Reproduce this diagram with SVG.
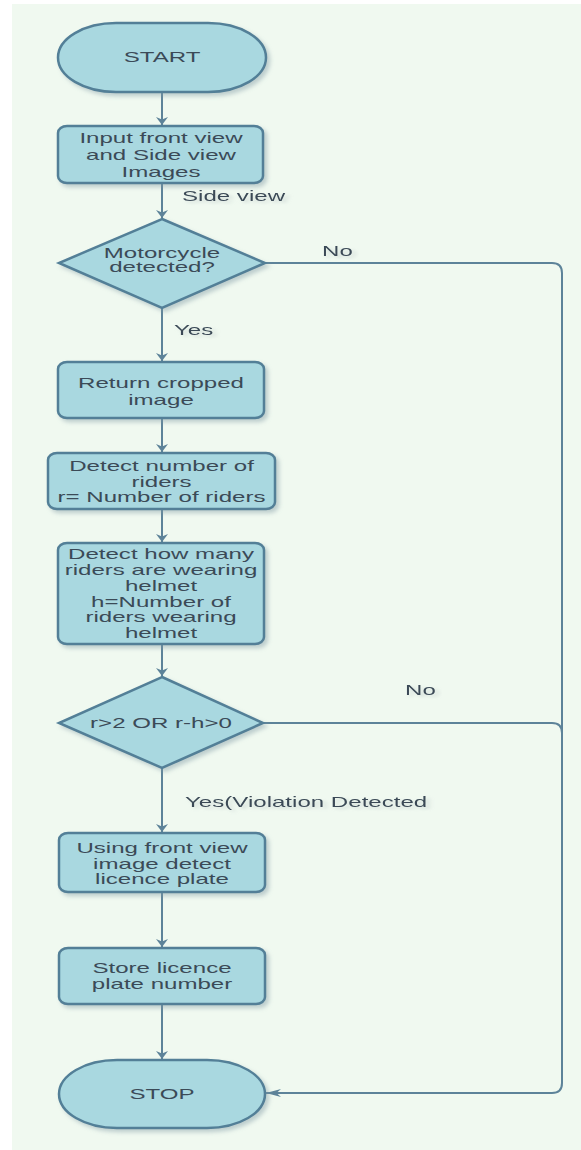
<svg xmlns="http://www.w3.org/2000/svg" width="581" height="1150" viewBox="0 0 581 1150">
  <style>
    .node { fill: #a9d8e0; stroke: #527f97; stroke-width: 2.5; filter: url(#shadow); }
    .conn { fill: none; stroke: #5d8399; stroke-width: 2; }
    .t { font-family: "Liberation Sans", Arial, sans-serif; font-size: 14px; fill: #3b4a57; text-anchor: middle; }
    .lbl { font-family: "Liberation Sans", Arial, sans-serif; font-size: 14px; fill: #3b4a57; text-anchor: start; filter: url(#tshadow); }
  </style>
  <defs>
    <filter id="shadow" x="-10%" y="-10%" width="130%" height="140%">
      <feDropShadow dx="3" dy="3" stdDeviation="2" flood-color="#7f98a3" flood-opacity="0.45"/>
    </filter>
    <filter id="tshadow" x="-10%" y="-30%" width="130%" height="180%">
      <feDropShadow dx="2" dy="2" stdDeviation="1.5" flood-color="#9aa8ad" flood-opacity="0.4"/>
    </filter>
    <marker id="arrowV" viewBox="0 0 8 12" refX="8" refY="6" markerWidth="8" markerHeight="12" markerUnits="userSpaceOnUse" orient="auto">
      <path d="M0,0 L8,6 L0,12 L2.5,6 z" fill="#5d8399"/>
    </marker>
    <marker id="arrowH" viewBox="0 0 15 8" refX="15" refY="4" markerWidth="15" markerHeight="8" markerUnits="userSpaceOnUse" orient="auto">
      <path d="M0,0 L15,4 L0,8 L4.5,4 z" fill="#5d8399"/>
    </marker>
  </defs>

  <rect x="0" y="0" width="581" height="1150" fill="#ffffff"/>
  <rect x="12" y="4" width="569" height="1146" fill="#f0f9f0"/>

  <g id="connectors">
    <line class="conn" x1="162" y1="92" x2="162" y2="125" marker-end="url(#arrowV)"/>
    <line class="conn" x1="162" y1="183" x2="162" y2="218" marker-end="url(#arrowV)"/>
    <line class="conn" x1="162" y1="308" x2="162" y2="361" marker-end="url(#arrowV)"/>
    <line class="conn" x1="162" y1="418" x2="162" y2="452" marker-end="url(#arrowV)"/>
    <line class="conn" x1="162" y1="509" x2="162" y2="542" marker-end="url(#arrowV)"/>
    <line class="conn" x1="162" y1="644" x2="162" y2="676" marker-end="url(#arrowV)"/>
    <line class="conn" x1="162" y1="768" x2="162" y2="832" marker-end="url(#arrowV)"/>
    <line class="conn" x1="162" y1="892" x2="162" y2="947" marker-end="url(#arrowV)"/>
    <line class="conn" x1="162" y1="1004" x2="162" y2="1059" marker-end="url(#arrowV)"/>
    <path class="conn" d="M265,263 H552 Q562,263 562,273 V1083 Q562,1093 552,1093 H266" marker-end="url(#arrowH)"/>
    <path class="conn" d="M263,723 H552 Q562,723 562,733"/>
    <text class="lbl" transform="translate(182,201) scale(1.72,1)">Side view</text>
    <text class="lbl" transform="translate(322,256) scale(1.72,1)">No</text>
    <text class="lbl" transform="translate(174,335) scale(1.72,1)">Yes</text>
    <text class="lbl" transform="translate(405,695) scale(1.72,1)">No</text>
    <text class="lbl" transform="translate(185,807) scale(1.72,1)">Yes(Violation Detected</text>
  </g>

  <g id="start">
    <rect class="node" x="58" y="23" width="208" height="69" rx="58" ry="34.5"/>
    <text class="t" transform="translate(162,62) scale(1.72,1)">START</text>
  </g>

  <g id="input">
    <rect class="node" x="58" y="126" width="205" height="57" rx="9" ry="7"/>
    <text class="t" transform="translate(161,143) scale(1.72,1)">Input front view</text>
    <text class="t" transform="translate(161,160) scale(1.72,1)">and Side view</text>
    <text class="t" transform="translate(161,177) scale(1.72,1)">Images</text>
  </g>

  <g id="motorcycle">
    <polygon class="node" points="162,219 265,263 162,308 59,263"/>
    <text class="t" transform="translate(162,258) scale(1.72,1)">Motorcycle</text>
    <text class="t" transform="translate(162,272) scale(1.72,1)">detected?</text>
  </g>

  <g id="crop">
    <rect class="node" x="58" y="362" width="206" height="56" rx="9" ry="7"/>
    <text class="t" transform="translate(161,388) scale(1.72,1)">Return cropped</text>
    <text class="t" transform="translate(161,405) scale(1.72,1)">image</text>
  </g>

  <g id="riders">
    <rect class="node" x="48" y="453" width="227" height="56" rx="9" ry="7"/>
    <text class="t" transform="translate(161.5,471) scale(1.72,1)">Detect number of</text>
    <text class="t" transform="translate(161.5,487) scale(1.72,1)">riders</text>
    <text class="t" transform="translate(161.5,502) scale(1.72,1)">r= Number of riders</text>
  </g>

  <g id="helmet">
    <rect class="node" x="58" y="543" width="206" height="101" rx="9" ry="7"/>
    <text class="t" transform="translate(161,559) scale(1.72,1)">Detect how many</text>
    <text class="t" transform="translate(161,575) scale(1.72,1)">riders are wearing</text>
    <text class="t" transform="translate(161,591) scale(1.72,1)">helmet</text>
    <text class="t" transform="translate(161,607) scale(1.72,1)">h=Number of</text>
    <text class="t" transform="translate(161,622) scale(1.72,1)">riders wearing</text>
    <text class="t" transform="translate(161,638) scale(1.72,1)">helmet</text>
  </g>

  <g id="violation">
    <polygon class="node" points="162,677 263,723 162,768 59,723"/>
    <text class="t" transform="translate(161,728) scale(1.72,1)">r&gt;2 OR r-h&gt;0</text>
  </g>

  <g id="plate">
    <rect class="node" x="59" y="833" width="206" height="59" rx="9" ry="7"/>
    <text class="t" transform="translate(162,853) scale(1.72,1)">Using front view</text>
    <text class="t" transform="translate(162,869) scale(1.72,1)">image detect</text>
    <text class="t" transform="translate(162,884) scale(1.72,1)">licence plate</text>
  </g>

  <g id="store">
    <rect class="node" x="59" y="948" width="206" height="56" rx="9" ry="7"/>
    <text class="t" transform="translate(162,973) scale(1.72,1)">Store licence</text>
    <text class="t" transform="translate(162,989) scale(1.72,1)">plate number</text>
  </g>

  <g id="stop">
    <rect class="node" x="59" y="1060" width="206" height="68" rx="58" ry="34"/>
    <text class="t" transform="translate(162,1099) scale(1.72,1)">STOP</text>
  </g>
</svg>
